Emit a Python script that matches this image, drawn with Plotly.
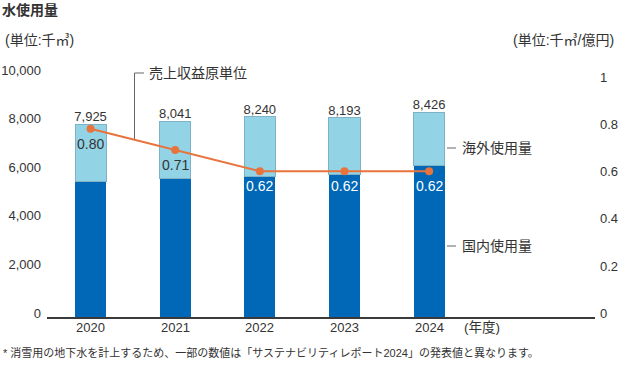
import plotly.graph_objects as go

years = ["2020", "2021", "2022", "2023", "2024"]
domestic = [5560, 5690, 5790, 5870, 6230]
totals = [7925, 8041, 8240, 8193, 8426]
overseas = [t - d for t, d in zip(totals, domestic)]
intensity = [0.80, 0.71, 0.62, 0.62, 0.62]
intensity_labels = ["0.80", "0.71", "0.62", "0.62", "0.62"]
total_labels = ["7,925", "8,041", "8,240", "8,193", "8,426"]
left_ticks = [0, 2000, 4000, 6000, 8000, 10000]
right_ticks = [0, 0.2, 0.4, 0.6, 0.8, 1.0]
right_tick_text = ["0", "0.2", "0.4", "0.6", "0.8", "1"]

W, H = 620, 365
L, R, T, B = 47, 25, 74, 48
PW, PH = W - L - R, H - T - B
FONT = "Liberation Sans, Arial, Noto Sans CJK JP"
TXT = "#333333"
DARK = "#0068b7"
LIGHT = "#93d3e6"
ORANGE = "#e8733c"


def px(x):
    return (x - L) / PW


def py(y):
    return (H - B - y) / PH


fig = go.Figure()
fig.add_trace(go.Bar(x=years, y=domestic, marker=dict(color=DARK, line=dict(color=DARK, width=0)),
                     width=0.367, showlegend=False, hoverinfo="skip"))
fig.add_trace(go.Bar(x=years, y=overseas, marker=dict(color=LIGHT, line=dict(color="#7fb2c6", width=1)),
                     width=0.367, showlegend=False, hoverinfo="skip"))
fig.add_trace(go.Scatter(x=years, y=totals, mode="text", text=total_labels, textposition="top center",
                         textfont=dict(family=FONT, size=13, color=TXT), showlegend=False, hoverinfo="skip"))
fig.add_trace(go.Scatter(x=years, y=intensity, yaxis="y2", mode="lines+markers",
                         line=dict(color=ORANGE, width=2), marker=dict(color=ORANGE, size=8),
                         showlegend=False, hoverinfo="skip"))

label_colors = [TXT, TXT, "white", "white", "white"]
for i, (v, t, c) in enumerate(zip(intensity, intensity_labels, label_colors)):
    fig.add_annotation(x=i, y=v, xref="x", yref="y2", text=t, showarrow=False, yshift=-15,
                       xanchor="center", yanchor="middle", font=dict(family=FONT, size=14, color=c))

for i, yr in enumerate(years):
    fig.add_annotation(x=i, y=py(327.5), xref="x", yref="paper", text=yr, showarrow=False,
                       xanchor="center", yanchor="middle", font=dict(family=FONT, size=13, color=TXT))

fig.update_layout(
    width=W, height=H, margin=dict(l=L, r=R, t=T, b=B, autoexpand=False),
    paper_bgcolor="white", plot_bgcolor="white", barmode="stack",
    font=dict(family=FONT, size=13, color=TXT),
    xaxis=dict(type="category", range=[-0.515, 5.96], showgrid=False, zeroline=False,
               showline=True, linecolor="#3a3a3a", linewidth=2, ticks="", showticklabels=False),
    yaxis=dict(range=[0, 10000], tickvals=left_ticks, tickformat=",", showgrid=False, zeroline=False,
               showline=False, ticks="", ticklabelstandoff=5, ticklabelshift=-4,
               tickfont=dict(family=FONT, size=13, color=TXT)),
    yaxis2=dict(range=[0, 1.033], overlaying="y", side="right", tickvals=right_ticks, ticktext=right_tick_text,
                showgrid=False, zeroline=False, showline=False, ticks="", ticklabelstandoff=4, ticklabelshift=-4,
                tickfont=dict(family=FONT, size=13, color=TXT)),
)

ann = [
    dict(text="<b>水使用量</b>", x=px(0), y=py(10), xanchor="left", size=14),
    dict(text="(単位:千㎥)", x=px(3), y=py(40), xanchor="left", size=14),
    dict(text="(単位:千㎥/億円)", x=px(616), y=py(40), xanchor="right", size=14),
    dict(text="売上収益原単位", x=px(147), y=py(73), xanchor="left", size=14),
    dict(text="海外使用量", x=px(460), y=py(148), xanchor="left", size=14),
    dict(text="国内使用量", x=px(460), y=py(246), xanchor="left", size=14),
    dict(text="(年度)", x=px(462), y=py(327.5), xanchor="left", size=13.5),
    dict(text="* 消雪用の地下水を計上するため、一部の数値は「サステナビリティレポート2024」の発表値と異なります。",
         x=px(1), y=py(352), xanchor="left", size=11),
]
for a in ann:
    fig.add_annotation(text=a["text"], x=a["x"], y=a["y"], xref="paper", yref="paper",
                       xanchor=a["xanchor"], yanchor="middle", showarrow=False,
                       font=dict(family=FONT, size=a["size"], color=TXT))

lc = dict(color="#666666", width=1)
shapes = [
    (134.5, 73, 144, 73),
    (134.5, 73, 134.5, 139),
    (447, 148, 456, 148),
    (447, 246, 456, 246),
]
for x0, y0, x1, y1 in shapes:
    fig.add_shape(type="line", xref="paper", yref="paper", x0=px(x0), y0=py(y0), x1=px(x1), y1=py(y1), line=lc)

fig.write_html("out.html", config={"displayModeBar": False},
               post_script="document.body.style.margin='0';document.body.style.padding='0';"
                           "document.body.style.overflow='hidden';")
